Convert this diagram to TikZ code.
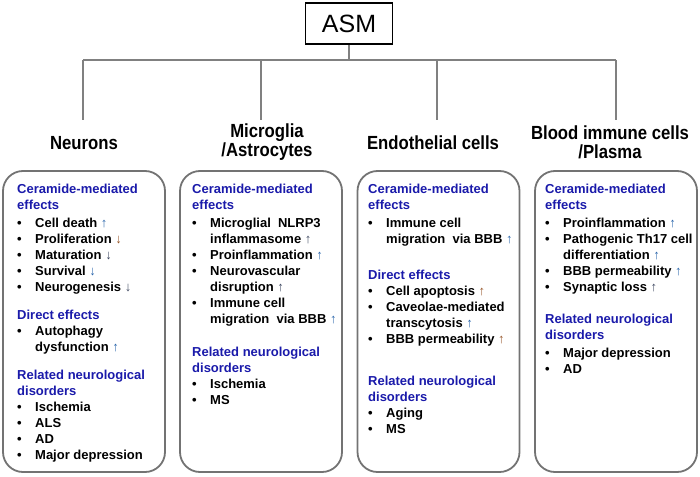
\documentclass[tikz,border=0pt]{standalone}
\usepackage{fontspec}
\setmainfont{Liberation Sans}
\newfontfamily\headfont[FakeStretch=0.88]{Liberation Sans}
\definecolor{hblue}{RGB}{26,26,170}
\definecolor{abl}{RGB}{40,100,170}
\definecolor{abr}{RGB}{150,85,40}
\definecolor{agr}{RGB}{60,70,95}
\definecolor{lgray}{RGB}{128,128,128}
\definecolor{bgray}{RGB}{115,115,115}
\newcommand{\bt}{\makebox[18pt][l]{\textbullet}}
\newcommand{\ind}{\hspace*{18pt}}
\newcommand{\up}[1]{{\mdseries\color{#1}↑}}
\newcommand{\dn}[1]{{\mdseries\color{#1}↓}}
\newcommand{\hd}[1]{{\color{hblue}#1}}
\tikzset{
  conn/.style={draw=lgray, line width=2.2pt},
  cellbox/.style={draw=bgray, line width=1.8pt, rounded corners=20pt, minimum width=162pt, minimum height=301pt, inner sep=0pt},
  boxtext/.style={anchor=north west, inner sep=0pt, align=left, font=\fontsize{13}{16}\selectfont\bfseries},
  cellhead/.style={align=center, inner sep=0pt, font=\headfont\bfseries\fontsize{19}{19}\selectfont},
}
\begin{document}
\begin{tikzpicture}[x=1pt,y=-1pt]
\useasboundingbox (0,0) rectangle (700,476);
% root
\node[draw=black, line width=1.6pt, minimum width=87pt, minimum height=41pt, inner sep=0pt, font=\fontsize{25}{25}\selectfont] (asm) at (349,23.5) {ASM};
\coordinate (hub) at (349,60);
\coordinate (j1) at (83,60);
\coordinate (j2) at (261,60);
\coordinate (j3) at (437,60);
\coordinate (j4) at (616,60);
\coordinate (e1) at (83,120);
\coordinate (e2) at (261,120);
\coordinate (e3) at (437,120);
\coordinate (e4) at (616,120);
\draw[conn] (asm.south) -- (hub);
\draw[conn] (j1) -- (j4);
\draw[conn] (j1) -- (e1);
\draw[conn] (j2) -- (e2);
\draw[conn] (j3) -- (e3);
\draw[conn] (j4) -- (e4);
% headings
\node[cellhead] (h1) at (84,143) {Neurons};
\node[cellhead] (h2) at (267,142) {Microglia\\/Astrocytes};
\node[cellhead] (h3) at (433,143) {Endothelial cells};
\node[cellhead] (h4) at (610,142) {Blood immune cells\\/Plasma};
% boxes
\node[cellbox] (b1) at (84,321.5) {};
\node[cellbox] (b2) at (261,321.5) {};
\node[cellbox] (b3) at (438.5,321.5) {};
\node[cellbox] (b4) at (616,321.5) {};
% contents
\node[boxtext] (t1) at (17,184) {%
\hd{Ceramide-mediated}\\
\hd{effects}\\[2pt]
\bt Cell death \up{abl}\\
\bt Proliferation \dn{abr}\\
\bt Maturation \dn{agr}\\
\bt Survival \dn{abl}\\
\bt Neurogenesis \dn{agr}\\[12pt]
\hd{Direct effects}\\
\bt Autophagy\\
\ind dysfunction \up{abl}\\[12pt]
\hd{Related neurological}\\
\hd{disorders}\\
\bt Ischemia\\
\bt ALS\\
\bt AD\\
\bt Major depression};
\node[boxtext] (t2) at (192,184) {%
\hd{Ceramide-mediated}\\
\hd{effects}\\[2pt]
\bt Microglial\ \ NLRP3\\
\ind inflammasome \up{agr}\\
\bt Proinflammation \up{abl}\\
\bt Neurovascular\\
\ind disruption \up{agr}\\
\bt Immune cell\\
\ind migration\ \ via BBB \up{abl}\\[17pt]
\hd{Related neurological}\\
\hd{disorders}\\
\bt Ischemia\\
\bt MS};
\node[boxtext] (t3) at (368,184) {%
\hd{Ceramide-mediated}\\
\hd{effects}\\[2pt]
\bt Immune cell\\
\ind migration\ \ via BBB \up{abl}\\[20pt]
\hd{Direct effects}\\
\bt Cell apoptosis \up{abr}\\
\bt Caveolae-mediated\\
\ind transcytosis \up{abl}\\
\bt BBB permeability \up{abr}\\[26pt]
\hd{Related neurological}\\
\hd{disorders}\\
\bt Aging\\
\bt MS};
\node[boxtext] (t4) at (545,184) {%
\hd{Ceramide-mediated}\\
\hd{effects}\\[2pt]
\bt Proinflammation \up{abl}\\
\bt Pathogenic Th17 cell\\
\ind differentiation \up{abl}\\
\bt BBB permeability \up{abl}\\
\bt Synaptic loss \up{agr}\\[16pt]
\hd{Related neurological}\\
\hd{disorders}\\[2pt]
\bt Major depression\\
\bt AD};
\end{tikzpicture}
\end{document}
